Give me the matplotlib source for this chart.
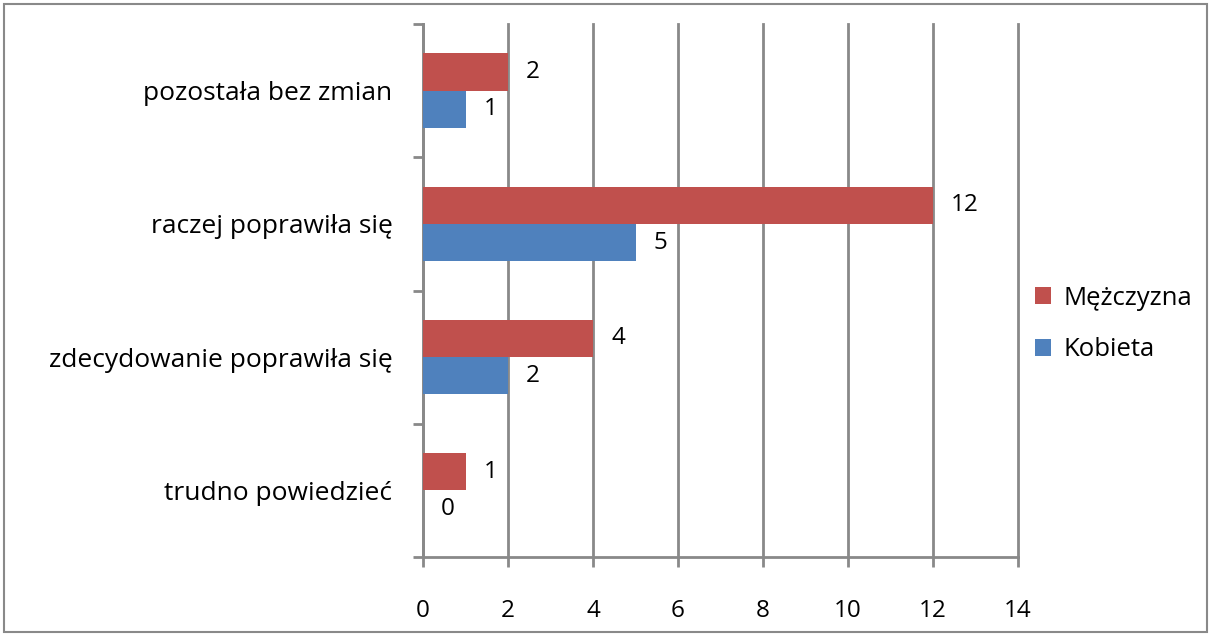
import numpy as np
import matplotlib.pyplot as plt
from matplotlib.patches import Rectangle

plt.rcParams['font.family'] = ['Open Sans', 'DejaVu Sans']

categories = ['trudno powiedzieć', 'zdecydowanie poprawiła się',
              'raczej poprawiła się', 'pozostała bez zmian']
kobieta = [0, 2, 5, 1]
mezczyzna = [1, 4, 12, 2]
x_ticks = [0, 2, 4, 6, 8, 10, 12, 14]

red = '#c0504d'
blue = '#4f81bd'
grey = '#898989'

fig = plt.figure(figsize=(12.12, 6.36), dpi=100)
ax = fig.add_axes([423 / 1212, 1 - 557 / 636, (1018 - 423) / 1212, (557 - 24) / 636])

# outer chart frame
fig.patches.append(Rectangle((4 / 1212, 4 / 636), 1203 / 1212, 628 / 636,
                             transform=fig.transFigure, fill=False,
                             edgecolor=grey, linewidth=1.5))

y = np.arange(len(categories))
h = 0.28
bars_k = ax.barh(y - h / 2, kobieta, height=h, color=blue, label='Kobieta', zorder=3)
bars_m = ax.barh(y + h / 2, mezczyzna, height=h, color=red, label='Mężczyzna', zorder=3)

for bars, vals in ((bars_m, mezczyzna), (bars_k, kobieta)):
    for b, v in zip(bars, vals):
        ax.annotate(str(v), (v, b.get_y() + b.get_height() / 2),
                    xytext=(18, 0), textcoords='offset pixels',
                    ha='left', va='center', fontsize=17.5)

ax.set_xlim(0, 14)
ax.set_ylim(-0.5, 3.5)
ax.set_xticks(x_ticks)
ax.set_xticklabels([str(t) for t in x_ticks])
ax.set_yticks(y)
ax.set_yticklabels(categories)
ax.set_yticks(np.arange(-0.5, 4, 1), minor=True)

ax.grid(axis='x', color=grey, linewidth=2, zorder=0)
for gl in ax.get_xgridlines():
    gl.set_clip_on(False)
ax.set_axisbelow(True)
for s in ('top', 'right'):
    ax.spines[s].set_visible(False)
for s in ('left', 'bottom'):
    ax.spines[s].set_color(grey)
    ax.spines[s].set_linewidth(2)

ax.tick_params(axis='x', length=7, width=2, color=grey, pad=23, labelsize=17.5)
ax.tick_params(axis='y', which='major', length=0, pad=22, labelsize=19)
ax.tick_params(axis='y', which='minor', length=7, width=2, color=grey)

handles = [bars_m, bars_k]
leg = fig.legend(handles, ['Mężczyzna', 'Kobieta'], loc='center left',
                 bbox_to_anchor=(1012 / 1212, 1 - 324 / 636), frameon=False,
                 fontsize=18.5, handlelength=0.62, handleheight=0.62,
                 handletextpad=0.5, labelspacing=1.05)

fig.savefig('out.png', dpi=100)
